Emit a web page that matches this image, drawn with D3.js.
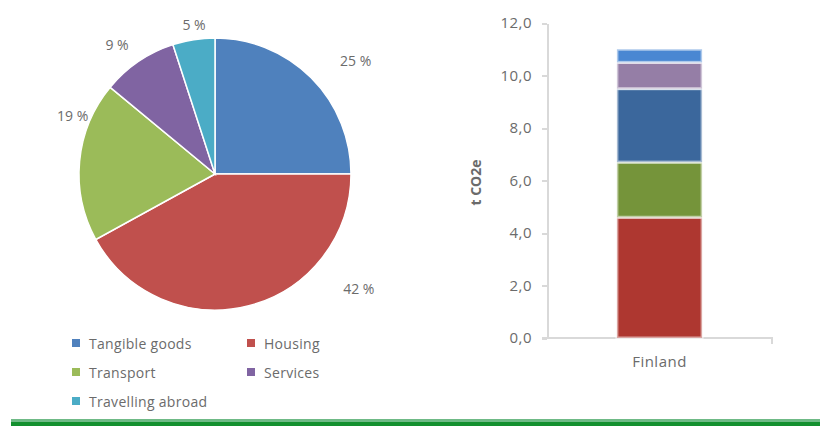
<!DOCTYPE html>
<html>
<head>
  <meta charset="utf-8">
  <title>Carbon footprint by consumption category</title>
  <script src="https://d3js.org/d3.v7.min.js"></script>
  <style>
    body { margin: 0; background: #fff; font-family: "Open Sans", "Liberation Sans", Arial, sans-serif; }
    .label { fill: #6b6b6b; font-size: 14px; }
    .axis path, .axis line { fill: none; stroke: #d9d9d9; stroke-width: 2; shape-rendering: crispEdges; }
    .axis text { fill: #6b6b6b; font-size: 15px; letter-spacing: 0.5px; font-family: "Open Sans", "Liberation Sans", Arial, sans-serif; }
  </style>
</head>
<body>
  <div id="chart"></div>
  <script>
    // Pie shares (%) in drawing order, clockwise from 12 o'clock
    const categories = ["Tangible goods", "Housing", "Transport", "Services", "Travelling abroad"];
    const shares = [25, 42, 19, 9, 5];
    const pieColors = ["#4f81bd", "#c0504d", "#9bbb59", "#8064a2", "#4bacc6"];

    // Stacked bar, tonnes CO2e, bottom to top
    const country = "Finland";
    const stackOrder = ["Housing", "Transport", "Tangible goods", "Services", "Travelling abroad"];
    const stackValues = [4.6, 2.1, 2.8, 1.0, 0.5];
    const stackColors = ["#ae3730", "#75943a", "#3b679c", "#957ea6", "#4a87d2"];
    const yTicks = [0, 2, 4, 6, 8, 10, 12];

    const W = 820, H = 426;
    const svg = d3.select("#chart").append("svg")
      .attr("width", W).attr("height", H);

    // ---- pie ----
    const cx = 215, cy = 174, r = 136;
    const pie = d3.pie().sort(null).value(d => d)(shares);
    const arc = d3.arc().innerRadius(0).outerRadius(r);
    const gPie = svg.append("g").attr("transform", `translate(${cx},${cy})`);

    gPie.selectAll("path")
      .data(pie)
      .enter().append("path")
        .attr("d", arc)
        .attr("fill", (d, i) => pieColors[i])
        .attr("stroke", "#fff")
        .attr("stroke-width", 1.5);

    // Excel "best fit" labels: nudge angle (deg) and radius per slice
    const labelFit = [[6, 181], [-37, 184], [17, 154], [-3, 162], [1, 151]];
    gPie.selectAll(".label")
      .data(pie)
      .enter().append("text")
        .attr("class", "label")
        .attr("text-anchor", "middle")
        .attr("dominant-baseline", "central")
        .attr("transform", (d, i) => {
          const a = (d.startAngle + d.endAngle) / 2 + labelFit[i][0] * Math.PI / 180;
          const rr = labelFit[i][1];
          return `translate(${rr * Math.sin(a)},${-rr * Math.cos(a)})`;
        })
        .text(d => d.data + " %");

    // ---- legend ----
    const legend = svg.append("g").attr("transform", "translate(72,343)");
    const items = legend.selectAll("g")
      .data(categories)
      .enter().append("g")
        .attr("transform", (d, i) => `translate(${(i % 2) * 175},${Math.floor(i / 2) * 29})`);
    items.append("rect")
      .attr("x", 0).attr("y", -4).attr("width", 8).attr("height", 8)
      .attr("fill", (d, i) => pieColors[i]);
    items.append("text")
      .attr("class", "label")
      .attr("x", 17)
      .attr("dominant-baseline", "central")
      .attr("font-size", 15)
      .attr("letter-spacing", 0.3)
      .text(d => d);

    // ---- stacked bar ----
    const x0 = 547, x1 = 772, y0 = 338, y1 = 23;
    const y = d3.scaleLinear().domain([0, 12]).range([y0, y1]);
    const x = d3.scaleBand().domain([country]).range([x0, x1]).paddingInner(0).paddingOuter(0.82);

    const fmt = v => d3.format(".1f")(v).replace(".", ",");
    svg.append("g")
      .attr("class", "axis")
      .attr("transform", `translate(${x0},0)`)
      .call(d3.axisLeft(y).tickValues(yTicks).tickFormat(fmt).tickSize(5).tickPadding(10).tickSizeOuter(0));

    const xAxis = svg.append("g")
      .attr("class", "axis")
      .attr("transform", `translate(0,${y0})`)
      .call(d3.axisBottom(x).tickSize(0).tickPadding(18).tickSizeOuter(0));
    xAxis.select(".domain").attr("d", `M${x0 - 5},0H${x1}V6`);

    const stacked = [];
    let acc = 0;
    stackValues.forEach((v, i) => { stacked.push({ name: stackOrder[i], lo: acc, hi: acc + v, c: stackColors[i] }); acc += v; });

    svg.selectAll(".seg")
      .data(stacked)
      .enter().append("rect")
        .attr("class", "seg")
        .attr("x", x(country))
        .attr("width", x.bandwidth())
        .attr("y", d => y(d.hi))
        .attr("height", d => y(d.lo) - y(d.hi))
        .attr("fill", d => d.c)
        .attr("stroke", "#fff")
        .attr("stroke-opacity", 0.55)
        .attr("stroke-width", 3);

    svg.append("text")
      .attr("class", "label")
      .attr("transform", `translate(481,${(y0 + y1) / 2 + 2}) rotate(-90)`)
      .attr("text-anchor", "middle")
      .attr("font-weight", "bold")
      .attr("fill", "#404040")
      .text("t CO2e");

    // ---- bottom rule ----
    svg.append("rect").attr("x", 11).attr("y", 419).attr("width", W - 11).attr("height", 3).attr("fill", "#6fba86");
    svg.append("rect").attr("x", 11).attr("y", 422).attr("width", W - 11).attr("height", 4).attr("fill", "#13902e");
  </script>
</body>
</html>
